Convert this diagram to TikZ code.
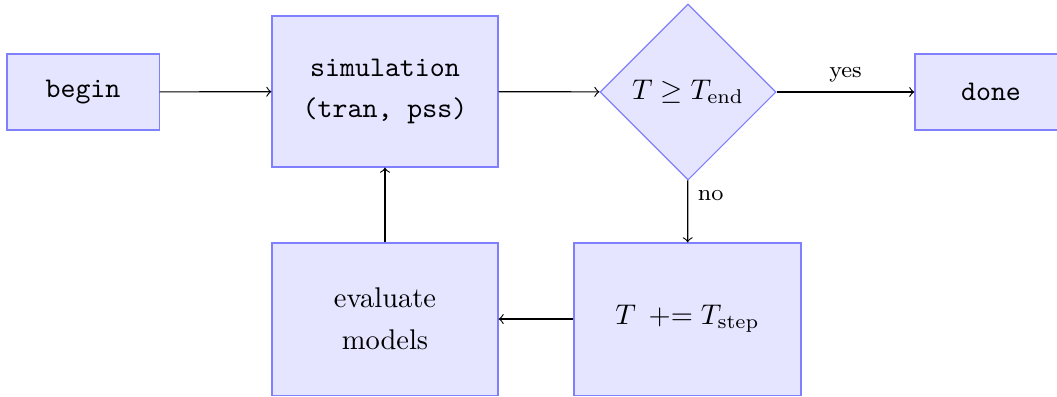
\documentclass[tikz,border=0pt]{standalone}
\usetikzlibrary{shapes.geometric}
\begin{document}
\begin{tikzpicture}[x=0.351pt, y=-0.351pt,
  block/.style={draw=blue!50, fill=blue!10, rectangle, inner sep=0pt, align=center},
  decision/.style={draw=blue!50, fill=blue!10, diamond, aspect=1, inner sep=0pt, minimum size=61.8pt},
  flow/.style={->, black},
  lbl/.style={font=\footnotesize}]
\useasboundingbox (0,0) rectangle (1057,396);

\node[block, minimum width=53.4pt, minimum height=26.7pt] (begin) at (83,92) {\texttt{begin}};
\node[block, minimum width=79.3pt, minimum height=53pt] (sim) at (385,91.5)
  {\texttt{simulation}\\[2.6pt]\texttt{(tran, pss)}};
\node[decision] (test) at (688,92) {$T \geq T_{\mathrm{end}}$};
\node[block, minimum width=53.4pt, minimum height=26.7pt] (done) at (991,92) {\texttt{done}};
\node[block, minimum width=79.7pt, minimum height=53.4pt] (step) at (687.5,319)
  {$T\,\mathrel{+}= T_{\mathrm{step}}$};
\node[block, minimum width=79.3pt, minimum height=53.4pt] (eval) at (385,319)
  {evaluate\\[2.6pt]models};

\draw[flow] (begin) -- (sim);
\draw[flow] (sim) -- (test);
\draw[flow] (test) -- node[lbl, above] {yes} (done);
\draw[flow] (test) -- node[lbl, right, pos=0.25] {no} (step);
\draw[flow] (step) -- (eval);
\draw[flow] (eval) -- (sim);
\end{tikzpicture}
\end{document}
